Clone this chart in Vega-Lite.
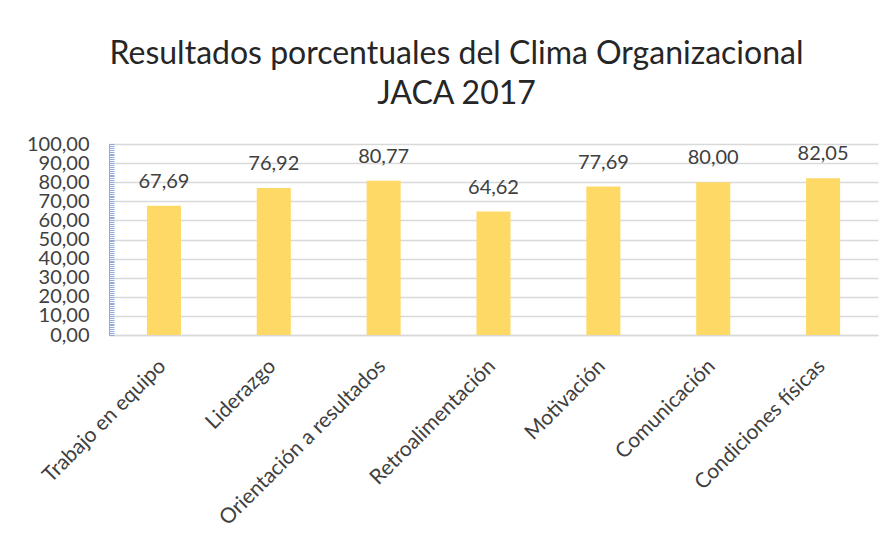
{
  "$schema": "https://vega.github.io/schema/vega-lite/v6.json",
  "width": 769,
  "height": 191,
  "autosize": "none",
  "padding": {"left": 109, "top": 144, "right": 16, "bottom": 198},
  "background": "white",
  "config": {
    "locale": {"number": {"decimal": ",", "thousands": ".", "grouping": [3], "currency": ["", ""]}},
    "view": {"stroke": null},
    "font": "Lato"
  },
  "title": {
    "text": ["Resultados porcentuales del Clima Organizacional", "JACA 2017"],
    "fontSize": 32,
    "font": "Lato",
    "fontWeight": "normal",
    "color": "#262626",
    "lineHeight": 40,
    "offset": 23,
    "dx": -37,
    "anchor": "middle"
  },
  "data": {
    "values": [
      {"categoria": "Trabajo en equipo", "valor": 67.69},
      {"categoria": "Liderazgo", "valor": 76.92},
      {"categoria": "Orientación a resultados", "valor": 80.77},
      {"categoria": "Retroalimentación", "valor": 64.62},
      {"categoria": "Motivación", "valor": 77.69},
      {"categoria": "Comunicación", "valor": 80.0},
      {"categoria": "Condiciones físicas", "valor": 82.05}
    ]
  },
  "layer": [
    {
      "mark": {"type": "bar", "color": "#FFD966"},
      "encoding": {
        "x": {
          "field": "categoria", "type": "nominal", "sort": null,
          "scale": {"paddingInner": 0.69, "paddingOuter": 0.345},
          "axis": {
            "title": null, "labelAngle": -45, "labelFontSize": 21, "labelColor": "#404040",
            "ticks": false, "domainColor": "#D9D9D9", "domainWidth": 1.5,
            "labelPadding": 20, "labelOffset": -9, "labelLimit": 0, "labelBaseline": "top", "labelAlign": "right"
          }
        },
        "y": {
          "field": "valor", "type": "quantitative",
          "scale": {"domain": [0, 100]},
          "axis": {
            "title": null, "tickCount": 10, "grid": true, "gridColor": "#D9D9D9", "gridWidth": 1.5,
            "domain": false, "ticks": false, "labelPadding": 20, "labelFontSize": 20,
            "labelColor": "#404040", "format": ".2f", "labelOverlap": false, "orient": "left"
          }
        }
      }
    },
    {
      "mark": {"type": "text", "dy": -18, "baseline": "alphabetic", "fontSize": 20, "color": "#404040"},
      "encoding": {
        "x": {"field": "categoria", "type": "nominal", "sort": null},
        "y": {
          "field": "valor", "type": "quantitative",
          "axis": {
            "orient": "left", "title": null, "tickCount": 100, "labels": false, "grid": false,
            "tickSize": -5, "tickColor": "#8FAADC", "domainColor": "#8FAADC"
          }
        },
        "text": {"field": "valor", "type": "quantitative", "format": ".2f"}
      }
    }
  ],
  "resolve": {"axis": {"y": "independent"}}
}
